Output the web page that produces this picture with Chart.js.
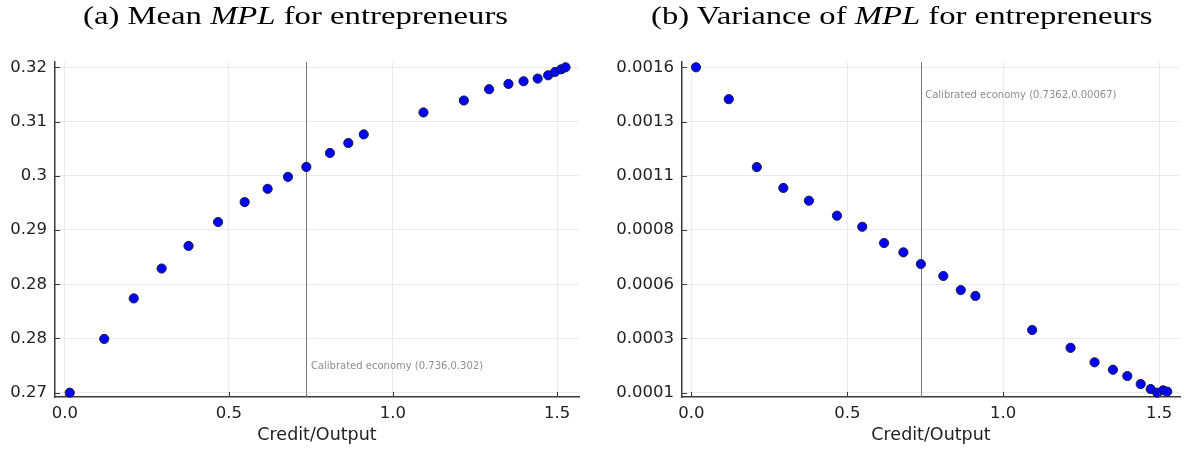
<!DOCTYPE html>
<html>
<head>
<meta charset="utf-8">
<script src="https://cdn.jsdelivr.net/npm/chart.js@4.4.1/dist/chart.umd.min.js"></script>
<style>
html,body{margin:0;padding:0;background:#fff;}
#wrap{position:relative;width:1186px;height:452px;overflow:hidden;}
.panel{position:absolute;top:0;width:593px;height:452px;}
.ttl{position:absolute;top:1px;font-family:'Liberation Serif',serif;font-size:26px;line-height:30px;color:#000;white-space:nowrap;transform-origin:0 50%;}
</style>
</head>
<body>
<div id="wrap">
  <div class="panel" style="left:0"><canvas id="meanChart" width="593" height="452"></canvas></div>
  <div class="panel" style="left:593px"><canvas id="varChart" width="593" height="452"></canvas></div>
  <div class="ttl" id="ttlA" style="left:83px">(a) Mean <i>MPL</i> for entrepreneurs</div>
  <div class="ttl" id="ttlB" style="left:651px">(b) Variance of <i>MPL</i> for entrepreneurs</div>
</div>
<script>
// credit/output ratio of each simulated economy
const creditOutput = [0.015,0.12,0.21,0.295,0.377,0.467,0.548,0.618,0.68,0.736,0.808,0.864,0.911,1.093,1.216,1.293,1.352,1.398,1.441,1.473,1.494,1.513,1.526];
const mplMean = [0.2680,0.2761,0.2822,0.2867,0.2901,0.2937,0.2967,0.2987,0.3005,0.3020,0.3041,0.3056,0.3069,0.3102,0.3120,0.3137,0.3145,0.3149,0.3153,0.3158,0.3163,0.3167,0.3170];
const mplVar = [0.001577,0.001430,0.001117,0.001021,0.000962,0.000893,0.000842,0.000767,0.000724,0.000670,0.000615,0.000550,0.000523,0.000366,0.000284,0.000217,0.000183,0.000154,0.000117,0.000094,0.000077,0.000088,0.000082];

const xTickVals = [0, 0.5, 1, 1.5];
const xTickLabels = ['0.0','0.5','1.0','1.5'];
const meanTickVals = [0.268,0.27617,0.28433,0.2925,0.30067,0.30883,0.317];
const meanTickLabels = ['0.27','0.28','0.28','0.29','0.3','0.31','0.32'];
const varTickVals = [0.000077,0.000327,0.000577,0.000827,0.001077,0.001327,0.001577];
const varTickLabels = ['0.0001','0.0003','0.0006','0.0008','0.0011','0.0013','0.0016'];

const calibX = 0.736;
const meanNote = {x:0.75, y:0.2720, text:'Calibrated economy (0.736,0.302)'};
const varNote = {x:0.75, y:0.001449, text:'Calibrated economy (0.7362,0.00067)'};

const AXIS = '#3a3a3a';

const calibPlugin = {
  id: 'calib',
  beforeDatasetsDraw(chart, args, o) {
    const {ctx, chartArea: a, scales: {x, y}} = chart;
    const px = Math.round(x.getPixelForValue(o.x)) + 0.5;
    ctx.save();
    ctx.strokeStyle = '#7a7a7a';
    ctx.lineWidth = 1;
    ctx.beginPath(); ctx.moveTo(px, a.top); ctx.lineTo(px, a.bottom); ctx.stroke();
    ctx.fillStyle = '#8e8e8e';
    ctx.font = '10px "DejaVu Sans"';
    ctx.textAlign = 'left';
    ctx.textBaseline = 'middle';
    ctx.fillText(o.note.text, x.getPixelForValue(o.note.x), y.getPixelForValue(o.note.y));
    ctx.restore();
  },
  afterDraw(chart) {
    // GR style: short tick marks pointing into the plot
    const {ctx, chartArea: a, scales: {x, y}} = chart;
    ctx.save();
    ctx.strokeStyle = AXIS;
    ctx.lineWidth = 1;
    ctx.beginPath();
    x.ticks.forEach(t => { const p = Math.round(x.getPixelForValue(t.value)) + 0.5; ctx.moveTo(p, a.bottom); ctx.lineTo(p, a.bottom - 5); });
    y.ticks.forEach(t => { const p = Math.round(y.getPixelForValue(t.value)) + 0.5; ctx.moveTo(a.left, p); ctx.lineTo(a.left + 5, p); });
    ctx.stroke();
    ctx.restore();
  }
};

function makeChart(id, yVals, yTicks, yLabels, yMin, yMax, yWidth, padRight, note) {
  return new Chart(document.getElementById(id), {
    type: 'scatter',
    data: { datasets: [{
      data: creditOutput.map((c, i) => ({x: c, y: yVals[i]})),
      backgroundColor: '#0000ff',
      borderColor: '#1c1c3a',
      borderWidth: 1,
      pointRadius: 4.6,
      clip: false
    }]},
    options: {
      responsive: false,
      animation: false,
      devicePixelRatio: 1,
      layout: { padding: {top: 62, right: padRight, left: 0, bottom: 0} },
      plugins: { legend: {display: false}, tooltip: {enabled: false}, calib: {x: calibX, note} },
      scales: {
        x: {
          type: 'linear', min: -0.03, max: 1.567,
          afterBuildTicks: s => { s.ticks = xTickVals.map(v => ({value: v})); },
          afterFit: s => { s.height = 55; },
          ticks: { callback: (v, i) => xTickLabels[i], padding: 7, color: '#222', font: {family: 'DejaVu Sans', size: 16.5}, maxRotation: 0, autoSkip: false },
          grid: { color: 'rgba(0,0,0,0.08)', drawTicks: false },
          border: { display: true, color: AXIS, width: 1.5 },
          title: { display: true, text: 'Credit/Output', color: '#222', font: {family: 'DejaVu Sans', size: 17.5}, padding: {top: 0, bottom: 6.5} }
        },
        y: {
          type: 'linear', min: yMin, max: yMax,
          afterBuildTicks: s => { s.ticks = yTicks.map(v => ({value: v})); },
          afterFit: s => { s.width = yWidth; },
          ticks: { callback: (v, i) => yLabels[i], padding: 8, color: '#222', font: {family: 'DejaVu Sans', size: 16.5}, autoSkip: false },
          grid: { color: 'rgba(0,0,0,0.08)', drawTicks: false },
          border: { display: true, color: AXIS, width: 1.5 }
        }
      }
    },
    plugins: [calibPlugin]
  });
}

makeChart('meanChart', mplMean, meanTickVals, meanTickLabels, 0.26735, 0.3178, 55, 14, meanNote);
makeChart('varChart', mplVar, varTickVals, varTickLabels, 0.0000572, 0.0016014, 89, 6, varNote);

// stretch the serif titles to the width of the LaTeX captions
const ta = document.getElementById('ttlA'), tb = document.getElementById('ttlB');
const k = 425 / ta.getBoundingClientRect().width;
ta.style.transform = `scaleX(${k})`;
tb.style.transform = `scaleX(${k})`;
</script>
</body>
</html>
